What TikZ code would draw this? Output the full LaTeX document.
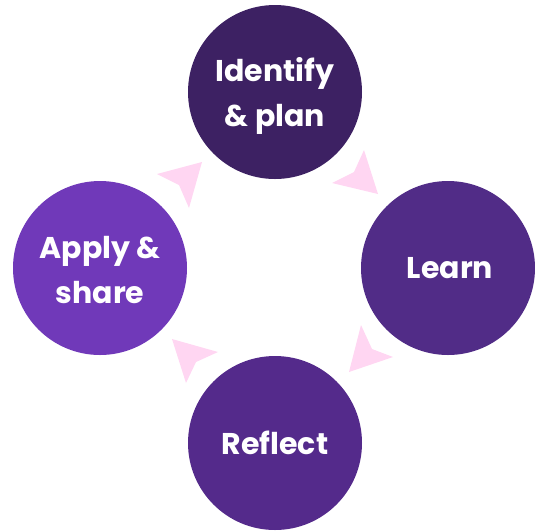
\documentclass[tikz,border=0pt]{standalone}
\usepackage{fontspec}
\setmainfont{Poppins}
\definecolor{cTop}{HTML}{3D2163}
\definecolor{cLearn}{HTML}{512C87}
\definecolor{cReflect}{HTML}{542A8B}
\definecolor{cApply}{HTML}{7039B9}
\definecolor{cPink}{HTML}{FFD6F2}
\tikzset{
  stagecircle/.style={circle, minimum size=174pt, inner sep=0pt},
  stagetext/.style={text=white, font=\fontsize{30}{45}\selectfont\bfseries, align=center, inner sep=0pt},
  arrowhd/.style={fill=cPink, draw=none}
}
\begin{document}
\begin{tikzpicture}[x=1pt,y=-1pt]
\useasboundingbox (0,0) rectangle (535,531);
\node[stagecircle, fill=cTop] (idp) at (275,92) {};
\node[stagecircle, fill=cLearn] (lrn) at (448,268) {};
\node[stagecircle, fill=cReflect] (rfl) at (275,443) {};
\node[stagecircle, fill=cApply] (aps) at (100,268) {};
\node[stagetext] (tidp) at (275,96) {Identify\\\& plan};
\node[stagetext] (tlrn) at (450,268) {Learn};
\node[stagetext] (trfl) at (275,443) {Reflect};
\node[stagetext] (taps) at (100,270) {Apply \&\\share};
\fill[arrowhd] (378,194) -- (364,150) -- (354,172) -- (332,183) -- cycle;
\fill[arrowhd] (349,372) -- (393,357) -- (372,349) -- (361,325) -- cycle;
\fill[arrowhd] (172,339) -- (218,352) -- (196,362) -- (186,383) -- cycle;
\fill[arrowhd] (202,162) -- (157,174) -- (179,185) -- (189,208) -- cycle;
\end{tikzpicture}
\end{document}
